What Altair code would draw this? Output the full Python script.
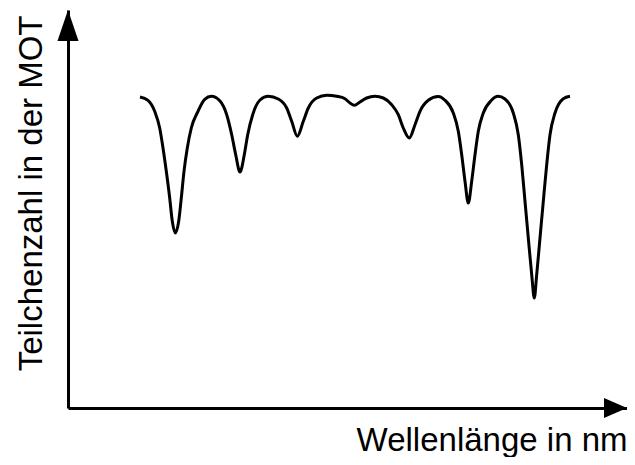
import altair as alt
import pandas as pd

# Curve (arbitrary units: wavelength vs. particle number)
wavelength = [72, 80, 86.7, 91.7, 95, 98.3, 101.7, 104.3, 107.3, 110.7, 113.3, 116, 119.3, 123.3, 130, 136.7, 143.3,
              152, 158.7, 163.7, 167.7, 172, 176.3, 179.7, 184.7, 192, 200.3,
              210.3, 218.7, 223.7, 229.3, 235.3, 240.3, 248.7, 258.7, 268.7,
              277, 282, 286.3, 292, 298.7, 307,
              315.3, 323.7, 330.3, 335.3, 341.3, 347, 352, 360.3, 370.3,
              377, 385.3, 390.3, 393.7, 397, 400.3, 403.7, 407, 410.3, 415.3, 423.7, 430,
              437, 445.3, 450.3, 453.7, 457, 460.3, 463.7, 466.3, 468.7, 472, 475.3, 478.7, 482, 487, 495.3, 502]
count = [311, 307.7, 296.7, 280, 260, 236.7, 210, 186.7, 175, 186.7, 210, 236.7, 260, 280, 296.7, 308.7, 311.7,
         307, 293.3, 273.3, 253.3, 236, 253.3, 273.3, 293.3, 308, 311.7,
         309, 300, 286.7, 271.7, 286.7, 300, 310, 312.7, 311.7,
         309.3, 305, 302.7, 306, 310, 311.7,
         310, 303.3, 293.3, 280, 270, 283.3, 296.7, 307.7, 311.5,
         307.7, 295, 276.7, 253.3, 226.7, 205, 226.7, 253.3, 276.7, 295, 308, 311.7,
         309, 295, 273.3, 243.3, 206.7, 170, 133.3, 110, 133.3, 170, 206.7, 243.3, 273.3, 295, 309.3, 311.7]

# Axis extents (arrow tips)
x_max = 559
y_max = 398

x_label = "Wellenlänge in nm"
y_label = "Teilchenzahl in der MOT"

FONT = "Liberation Sans"

df = pd.DataFrame({"x": wavelength, "y": count})
xs = alt.Scale(domain=[0, x_max], nice=False, zero=False)
ys = alt.Scale(domain=[0, y_max], nice=False, zero=False)

x_axis = alt.Axis(title=x_label, labels=False, ticks=False, grid=False,
                  domainColor="black", domainWidth=3,
                  titleFont=FONT, titleFontSize=33, titleFontWeight="normal", titleColor="black",
                  titleAlign="right", titleBaseline="alphabetic", titleX=559, titleY=42)
y_axis = alt.Axis(title=y_label, labels=False, ticks=False, grid=False,
                  domainColor="black", domainWidth=3,
                  titleFont=FONT, titleFontSize=33, titleFontWeight="normal", titleColor="black",
                  titleAngle=270, titleAlign="right", titleBaseline="alphabetic", titleX=-27, titleY=5)

curve = alt.Chart(df).mark_line(color="black", strokeWidth=3, interpolate="monotone").encode(
    x=alt.X("x:Q", scale=xs, axis=x_axis),
    y=alt.Y("y:Q", scale=ys, axis=y_axis),
)

up_arrow = alt.Chart(pd.DataFrame({"x": [0], "y": [y_max]})).mark_point(
    shape="M0,0L0.68,2L-0.68,2Z", filled=True, color="black", opacity=1, size=961, strokeWidth=0
).encode(x=alt.X("x:Q", scale=xs), y=alt.Y("y:Q", scale=ys))

right_arrow = alt.Chart(pd.DataFrame({"x": [x_max], "y": [0]})).mark_point(
    shape="M0,0L-2,-0.87L-2,0.87Z", filled=True, color="black", opacity=1, size=529, strokeWidth=0
).encode(x=alt.X("x:Q", scale=xs), y=alt.Y("y:Q", scale=ys))

chart = alt.layer(curve, up_arrow, right_arrow).properties(
    width=559, height=398,
    autosize=alt.AutoSizeParams(type="none"),
    padding={"left": 60, "top": 2, "right": 0, "bottom": 49},
    background="white",
).configure_view(stroke=None)

chart.save("out.html", embed_options={"renderer": "svg", "actions": False})
